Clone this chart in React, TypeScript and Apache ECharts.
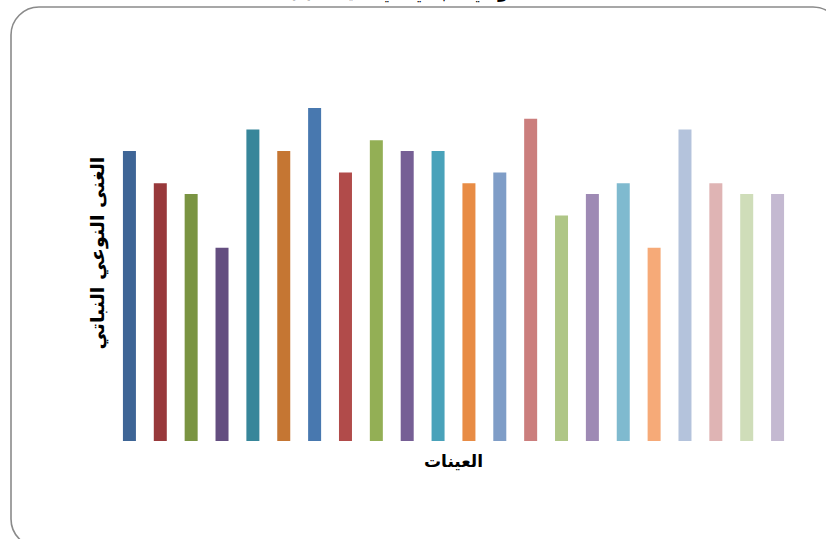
import React, { useEffect, useRef } from "react";
import * as echarts from "echarts";

const categories = [
  "1", "2", "3", "4", "5", "6", "7", "8", "9", "10", "11",
  "12", "13", "14", "15", "16", "17", "18", "19", "20", "21", "22",
];
const richness = [27, 24, 23, 18, 29, 27, 31, 25, 28, 27, 27, 24, 25, 30, 21, 23, 24, 18, 29, 24, 23, 23];
const barColors = [
  "#3E6596", "#98393B", "#7A9442", "#644E80", "#37869A", "#C57633",
  "#4878AF", "#B14B4A", "#93AF55", "#765F95", "#49A2BA", "#E88C45",
  "#7F9DC7", "#CB7E7D", "#AFC686", "#9E8AB4", "#7FBACF", "#F6AA78",
  "#B4C3DC", "#DFB4B4", "#CFDDB9", "#C4B9D1",
];
const titleText = "(٢) الغنى النوعي النباتي في العينات";
const xTitle = "العينات";
const yTitle = "الغنى النوعي النباتي";

export default function App() {
  const ref = useRef<HTMLDivElement>(null);
  useEffect(() => {
    if (!ref.current) return;
    const chart = echarts.init(ref.current, null, { renderer: "svg" });
    const arabicFont = "'DejaVu Sans', 'Noto Sans', sans-serif";
    chart.setOption({
      animation: false,
      backgroundColor: "#ffffff",
      color: barColors,
      grid: { left: 114, right: 33, top: 65, bottom: 98 },
      graphic: [
        {
          type: "rect",
          shape: { x: 11, y: 7, width: 830, height: 540, r: 28 },
          style: { fill: "none", stroke: "#8a8a8a", lineWidth: 1.6 },
          silent: true,
        },
        {
          type: "text",
          x: 432,
          y: -16,
          style: {
            text: titleText,
            fill: "#000",
            font: `bold 16px ${arabicFont}`,
            align: "center",
            verticalAlign: "top",
          },
        },
      ],
      xAxis: {
        type: "category",
        data: categories,
        axisLine: { show: false },
        axisTick: { show: false },
        axisLabel: { show: false },
        name: xTitle,
        nameLocation: "middle",
        nameGap: 11,
        nameTextStyle: {
          fontFamily: arabicFont,
          fontWeight: "bold",
          fontSize: 17,
          color: "#000",
          verticalAlign: "top",
        },
      },
      yAxis: {
        type: "value",
        min: 0,
        max: 35,
        axisLine: { show: false },
        axisTick: { show: false },
        axisLabel: { show: false },
        splitLine: { show: false },
        name: yTitle,
        nameLocation: "middle",
        nameRotate: 90,
        nameGap: 8,
        nameTextStyle: { fontFamily: arabicFont, fontWeight: "bold", fontSize: 19, color: "#000" },
      },
      series: [
        {
          type: "bar",
          data: richness,
          colorBy: "data",
          barWidth: 13,
        },
      ],
    });
    return () => chart.dispose();
  }, []);
  return <div ref={ref} style={{ width: 826, height: 539, position: "absolute", left: 0, top: 0 }} />;
}
